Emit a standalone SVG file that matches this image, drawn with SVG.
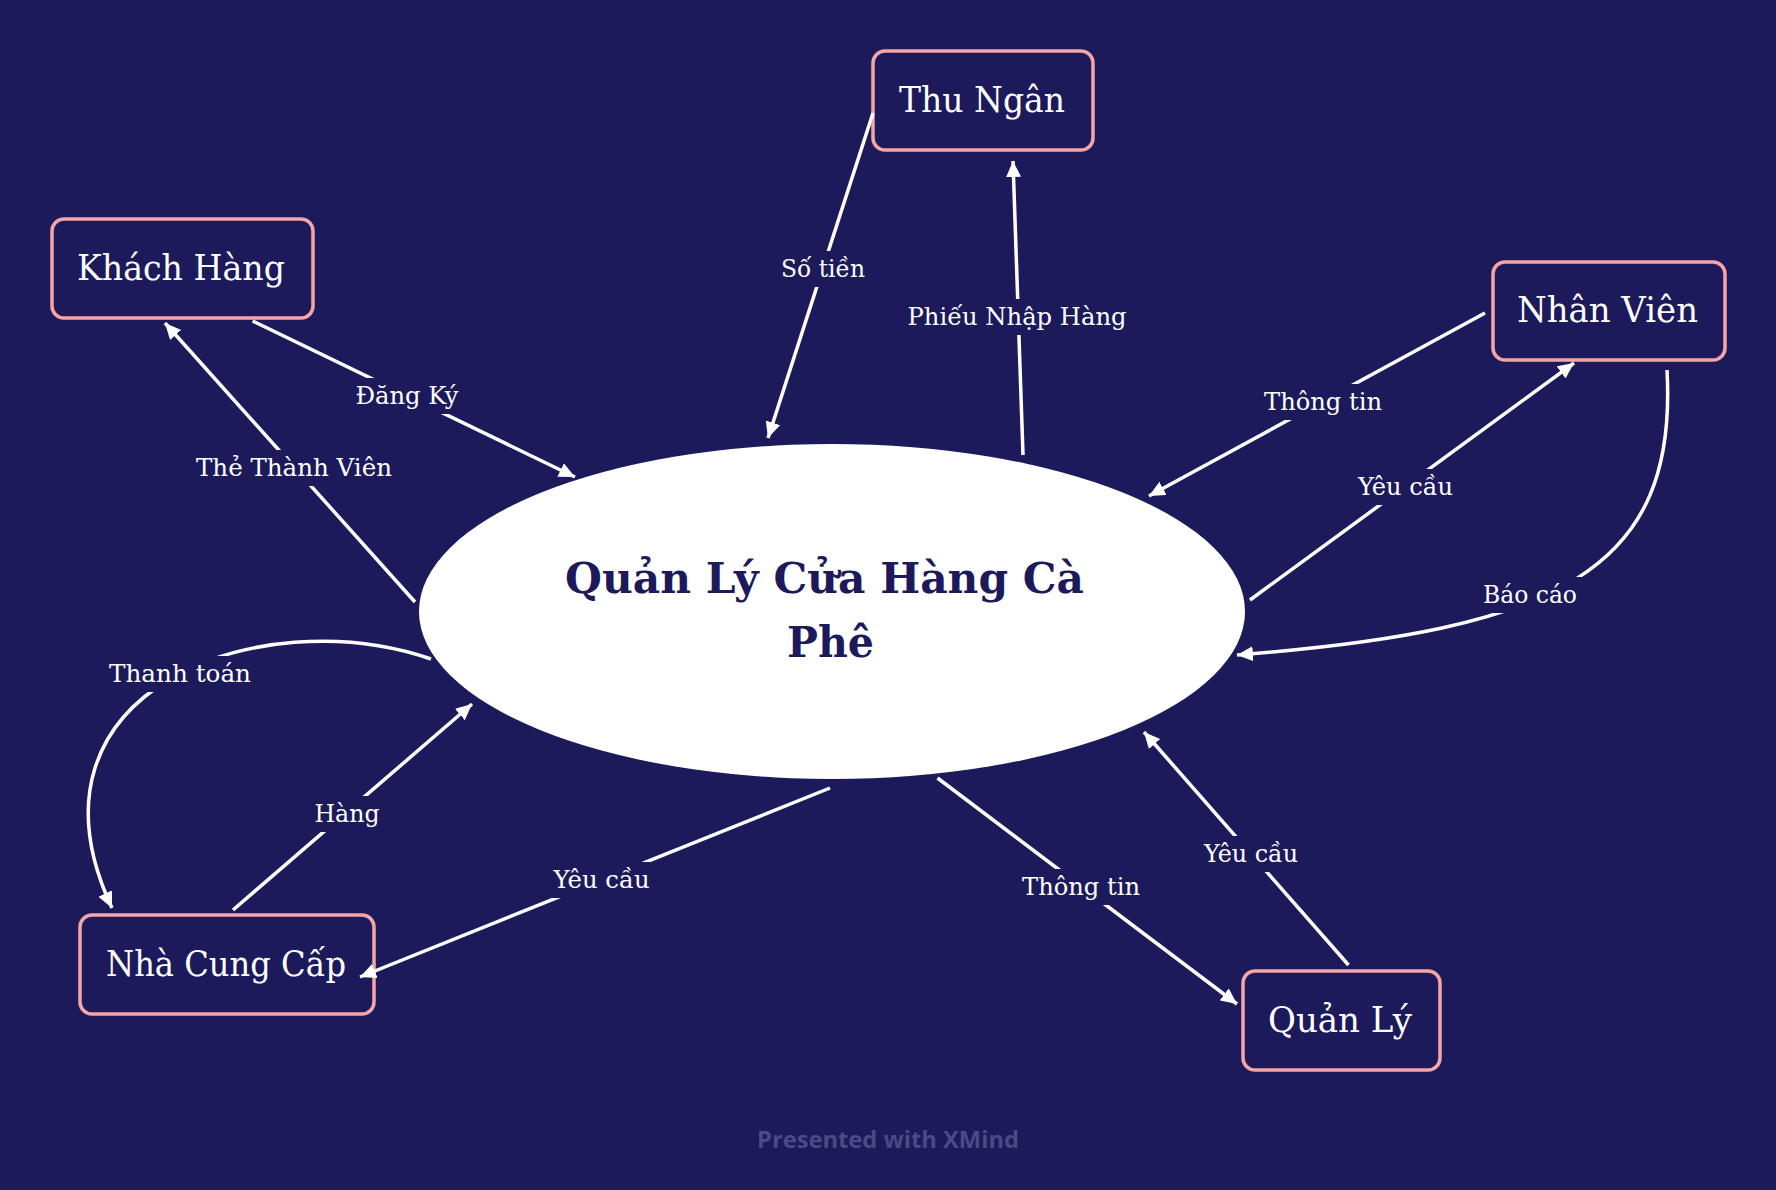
<svg xmlns="http://www.w3.org/2000/svg" width="1776" height="1190" viewBox="0 0 1776 1190">
<style>
.bg{fill:#1c1a5b}
.box{fill:#1c1a5b;stroke:#f6a5a5;stroke-width:3.5}
.ntext{font-family:"DejaVu Serif","Liberation Serif",serif;font-size:36px;fill:#ffffff;text-anchor:middle}
.title{font-family:"DejaVu Serif","Liberation Serif",serif;font-size:43px;font-weight:bold;fill:#1c1a5b}
.conn{fill:none;stroke:#ffffff;stroke-width:3.5}
.lbl{font-family:"DejaVu Serif","Liberation Serif",serif;font-size:24px;fill:#ffffff;text-anchor:middle}
.foot{font-family:"Open Sans","Noto Sans",sans-serif;font-size:24px;font-weight:bold;fill:#4a4a84;text-anchor:middle}
</style>
<defs>
<marker id="arrow" markerUnits="userSpaceOnUse" markerWidth="18" markerHeight="16" refX="16" refY="7.5" orient="auto">
<path d="M0,0 L16,7.5 L0,15 z" fill="#ffffff"/>
</marker>
</defs>
<rect class="bg" x="0" y="0" width="1776" height="1190"/>

<g id="node-center">
<ellipse cx="832" cy="611.5" rx="413" ry="167.5" fill="#ffffff"/>
<text class="title" x="565" y="593" textLength="519" lengthAdjust="spacingAndGlyphs">Quản Lý Cửa Hàng Cà</text>
<text class="title" x="787" y="657" textLength="87" lengthAdjust="spacingAndGlyphs">Phê</text>
</g>

<g id="node-khach-hang">
<rect class="box" x="52" y="219" width="261" height="99" rx="12"/>
<text class="ntext" x="181" y="280" textLength="208" lengthAdjust="spacingAndGlyphs">Khách Hàng</text>
</g>
<g id="node-thu-ngan">
<rect class="box" x="873" y="51" width="220" height="99" rx="12"/>
<text class="ntext" x="982" y="112" textLength="166" lengthAdjust="spacingAndGlyphs">Thu Ngân</text>
</g>
<g id="node-nhan-vien">
<rect class="box" x="1493" y="262" width="232" height="98" rx="12"/>
<text class="ntext" x="1607.5" y="322" textLength="181" lengthAdjust="spacingAndGlyphs">Nhân Viên</text>
</g>
<g id="node-nha-cung-cap">
<rect class="box" x="80" y="915" width="294" height="99" rx="12"/>
<text class="ntext" x="226" y="976" textLength="240" lengthAdjust="spacingAndGlyphs">Nhà Cung Cấp</text>
</g>
<g id="node-quan-ly">
<rect class="box" x="1243" y="971" width="197" height="99" rx="12"/>
<text class="ntext" x="1340" y="1032" textLength="144" lengthAdjust="spacingAndGlyphs">Quản Lý</text>
</g>

<g id="connectors">
<path class="conn" d="M252.6,321 L575,477" marker-end="url(#arrow)"/>
<path class="conn" d="M415,602 L165,323" marker-end="url(#arrow)"/>
<path class="conn" d="M873,113 L768,438" marker-end="url(#arrow)"/>
<path class="conn" d="M1023,455 L1013,161" marker-end="url(#arrow)"/>
<path class="conn" d="M1485,313 L1149,496" marker-end="url(#arrow)"/>
<path class="conn" d="M1250,600 L1574,363" marker-end="url(#arrow)"/>
<path class="conn" d="M1667,370 C1678,570 1560,630 1237,655" marker-end="url(#arrow)"/>
<path class="conn" d="M431,659 C260,600 10,690 112,908" marker-end="url(#arrow)"/>
<path class="conn" d="M233,910 L472,704" marker-end="url(#arrow)"/>
<path class="conn" d="M830,788 L360,977" marker-end="url(#arrow)"/>
<path class="conn" d="M937.5,778 L1237,1004" marker-end="url(#arrow)"/>
<path class="conn" d="M1348.5,965 L1144,732" marker-end="url(#arrow)"/>

<rect class="bg" x="349" y="378" width="115" height="36"/>
<text class="lbl" x="407" y="404" textLength="103" lengthAdjust="spacingAndGlyphs">Đăng Ký</text>
<rect class="bg" x="190" y="450" width="208" height="36"/>
<text class="lbl" x="294" y="476" textLength="196" lengthAdjust="spacingAndGlyphs">Thẻ Thành Viên</text>
<rect class="bg" x="775" y="251" width="96" height="36"/>
<text class="lbl" x="823" y="277" textLength="84" lengthAdjust="spacingAndGlyphs">Số tiền</text>
<rect class="bg" x="902" y="299" width="231" height="36"/>
<text class="lbl" x="1017" y="325" textLength="219" lengthAdjust="spacingAndGlyphs">Phiếu Nhập Hàng</text>
<rect class="bg" x="1258" y="384" width="130" height="36"/>
<text class="lbl" x="1323" y="410" textLength="118" lengthAdjust="spacingAndGlyphs">Thông tin</text>
<rect class="bg" x="1352" y="469" width="107" height="36"/>
<text class="lbl" x="1405.5" y="495" textLength="95" lengthAdjust="spacingAndGlyphs">Yêu cầu</text>
<rect class="bg" x="1477" y="577" width="106" height="36"/>
<text class="lbl" x="1530" y="603" textLength="94" lengthAdjust="spacingAndGlyphs">Báo cáo</text>
<rect class="bg" x="103" y="656" width="154" height="36"/>
<text class="lbl" x="180" y="682" textLength="142" lengthAdjust="spacingAndGlyphs">Thanh toán</text>
<rect class="bg" x="309" y="796" width="77" height="36"/>
<text class="lbl" x="347" y="822" textLength="65" lengthAdjust="spacingAndGlyphs">Hàng</text>
<rect class="bg" x="548" y="862" width="108" height="36"/>
<text class="lbl" x="601.6" y="888" textLength="96" lengthAdjust="spacingAndGlyphs">Yêu cầu</text>
<rect class="bg" x="1016" y="869" width="130" height="36"/>
<text class="lbl" x="1081" y="895" textLength="118" lengthAdjust="spacingAndGlyphs">Thông tin</text>
<rect class="bg" x="1198" y="836" width="106" height="36"/>
<text class="lbl" x="1251" y="862" textLength="94" lengthAdjust="spacingAndGlyphs">Yêu cầu</text>
</g>

<text class="foot" x="888" y="1148" textLength="262" lengthAdjust="spacingAndGlyphs">Presented with XMind</text>
</svg>
